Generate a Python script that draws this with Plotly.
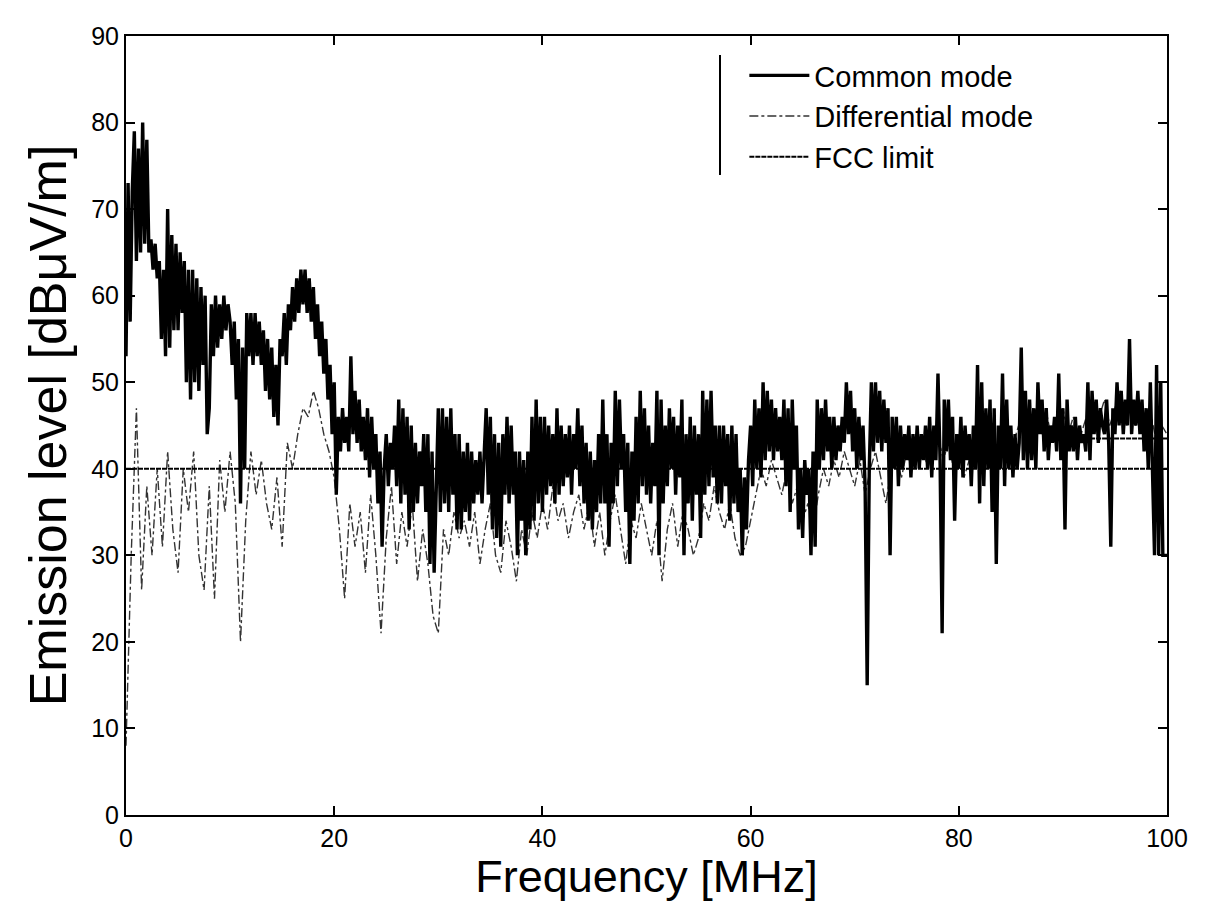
import numpy as np
import plotly.graph_objects as go

# ---- data ----
# Common mode emission, sampled every 0.2 MHz from 0 to 100 MHz (dBuV/m)
common_mode = [
    53, 73, 57, 72, 79,  64, 77, 65, 80, 66,  78, 65, 66.5, 63, 66,  62, 64, 55, 63, 53,  70, 54, 67, 56, 66,   # 0-5
    56, 65, 58, 64, 50,  63, 48, 63, 50, 62,  49, 61, 52, 60, 44,  47, 59, 53, 60, 54,  59, 55, 60, 56, 59,   # 5-10
    57, 52, 57, 48, 55,  36, 54, 40, 58, 53,  58, 52, 58, 53, 57,  52, 56, 49, 55, 48,  54, 46, 52, 45, 55,   # 10-15
    53, 58, 52, 59, 56,  61, 57, 62, 58, 63,  59, 63, 58, 62, 57,  61, 55, 59, 53, 57,  51, 55, 48, 52, 44,   # 15-20
    50, 37, 46, 42, 47,  43, 46, 42, 53, 44,  49, 43, 48, 42, 46,  41, 47, 39, 46, 40,  44, 36, 42, 31, 40,   # 20-25
    44, 38, 43, 40, 45,  38, 48, 36, 47, 37,  46, 33, 45, 35, 43,  36, 42, 38, 44, 35,  44, 29, 42, 28, 38,   # 25-30
    47, 35, 47, 36, 46,  35, 47, 37, 44, 33,  44, 33, 42, 35, 43,  34, 42, 36, 41, 37,  42, 36, 41, 47, 37,   # 30-35
    46, 33, 44, 32, 43,  31, 44, 37, 46, 36,  45, 37, 42, 30, 42,  34, 41, 30, 42, 33,  46, 34, 48, 36, 46,   # 35-40
    35, 46, 37, 45, 38,  44, 36, 47, 37, 45,  38, 44, 39, 45, 37,  44, 40, 47, 38, 45,  36, 43, 34, 42, 33,   # 40-45
    41, 35, 44, 36, 48,  36, 44, 31, 43, 36,  49, 38, 48, 40, 44,  35, 43, 29, 42, 34,  46, 36, 49, 38, 47,   # 45-50
    37, 45, 36, 43, 38,  49, 30, 48, 36, 45,  38, 47, 40, 46, 37,  45, 39, 48, 30, 44,  36, 46, 34, 45, 37,   # 50-55
    44, 32, 49, 37, 48,  38, 49, 39, 45, 36,  45, 36, 45, 38, 44,  34, 45, 36, 44, 35,  40, 30, 39, 33, 41,   # 55-60
    45, 38, 48, 40, 47,  39, 50, 41, 49, 42,  48, 41, 47, 42, 46,  41, 48, 38, 47, 35,  48, 40, 45, 33, 40,   # 60-65
    32, 41, 37, 40, 30,  42, 31, 48, 40, 47,  41, 48, 42, 46, 40,  46, 41, 45, 42, 46,  43, 50, 44, 49, 42,   # 65-70
    47, 40, 46, 41, 45,  38, 15, 40, 50, 42,  50, 43, 49, 42, 48,  43, 47, 30, 46, 40,  46, 38, 45, 40, 44,   # 70-75
    41, 45, 39, 44, 40,  45, 40, 44, 41, 45,  40, 46, 39, 45, 41,  51, 41, 21, 48, 42,  48, 41, 46, 34, 44,   # 75-80
    40, 46, 39, 45, 41,  44, 38, 45, 40, 52,  36, 50, 38, 47, 40,  48, 35, 47, 29, 45,  40, 51, 38, 48, 40,   # 80-85
    45, 39, 44, 40, 43,  54, 41, 49, 40, 48,  41, 47, 40, 50, 44,  48, 42, 47, 41, 45,  43, 46, 42, 51, 41,   # 85-90
    47, 33, 48, 42, 45,  42, 46, 41, 45, 43,  44, 42, 50, 41, 49,  44, 48, 43, 47, 45,  44, 48, 43, 31, 47,   # 90-95
    44, 50, 45, 49, 44,  48, 45, 55, 44, 48,  45, 49, 44, 48, 42,  47, 40, 50, 41, 30,  52, 30, 50, 30, 30,   # 95-100
    30,
]

# Differential mode emission, sampled every 0.5 MHz from 0 to 100 MHz (dBuV/m)
differential_mode = [
    8, 30, 47, 26, 38, 30, 40, 31, 42, 33,
    28, 40, 35, 42, 30, 26, 38, 25, 41, 35,
    42, 36, 20, 34, 42, 37, 41, 36, 33, 39,
    31, 43, 40, 44, 47, 46, 49, 47, 44, 42,
    39, 33, 25, 36, 31, 35, 28, 37, 30, 21,
    32, 38, 29, 35, 31, 36, 27, 33, 29, 23,
    21, 33, 30, 35, 32, 34, 31, 35, 29, 33,
    36, 30, 28, 34, 31, 27, 33, 30, 35, 32,
    36, 33, 38, 34, 36, 32, 35, 37, 33, 36,
    31, 35, 30, 34, 37, 33, 29, 34, 32, 36,
    33, 30, 34, 27, 33, 36, 31, 35, 33, 30,
    32, 36, 34, 38, 35, 33, 36, 32, 30, 31,
    34, 37, 40, 38, 41, 39, 37, 40, 36, 38,
    34, 36, 33, 37, 40, 38, 41, 39, 42, 40,
    38, 41, 37, 40, 42, 39, 36, 40, 41, 39,
    42, 40, 41, 43, 40, 42, 44, 41, 43, 40,
    42, 39, 41, 43, 40, 42, 44, 41, 43, 45,
    42, 44, 46, 43, 45, 47, 44, 46, 43, 45,
    47, 44, 46, 43, 45, 47, 44, 46, 48, 45,
    47, 49, 46, 48, 45, 47, 44, 46, 43, 45,
    44,
]

# FCC limit (dBuV/m)
fcc_freq = [0, 100, None, 88, 100]
fcc_level = [40, 40, None, 43.5, 43.5]

x_ticks = [0, 20, 40, 60, 80, 100]
y_ticks = [0, 10, 20, 30, 40, 50, 60, 70, 80, 90]

cm_freq = np.linspace(0, 100, len(common_mode))
dm_freq = np.linspace(0, 100, len(differential_mode))

FONT = "Liberation Sans, Arial, Helvetica, sans-serif"

fig = go.Figure()
fig.add_trace(go.Scatter(
    x=dm_freq, y=differential_mode, mode="lines", name="Differential mode",
    line=dict(color="#333333", width=1.4, dash="dashdot"), legendrank=2,
))
fig.add_trace(go.Scatter(
    x=cm_freq, y=common_mode, mode="lines", name="Common mode",
    line=dict(color="black", width=3.4), legendrank=1,
))
fig.add_trace(go.Scatter(
    x=fcc_freq, y=fcc_level, mode="lines", name="FCC limit",
    line=dict(color="black", width=2, dash="5px,1px"), legendrank=3,
))

axis_style = dict(
    showline=True, linecolor="black", linewidth=2, mirror="ticks",
    ticks="inside", ticklen=9, tickwidth=1.5, tickcolor="black",
    showgrid=False, zeroline=False, automargin=False,
    tickfont=dict(family=FONT, size=25, color="black"),
)

fig.update_xaxes(
    range=[0, 100], tickmode="array", tickvals=x_ticks,
    title=dict(text="Frequency [MHz]", font=dict(family=FONT, size=45, color="black"), standoff=22),
    **axis_style,
)
fig.update_yaxes(
    range=[0, 90], tickmode="array", tickvals=y_ticks,
    title=dict(text="Emission level [dBμV/m]", font=dict(family=FONT, size=52, color="black"), standoff=8),
    **axis_style,
)

fig.update_layout(
    template="none",
    width=1205, height=894,
    margin=dict(l=118, r=46, t=28, b=87),
    paper_bgcolor="white", plot_bgcolor="white",
    font=dict(family=FONT, color="black"),
    showlegend=True,
    legend=dict(
        x=0.594, y=0.982, xanchor="left", yanchor="top",
        font=dict(family=FONT, size=29, color="black"),
        bgcolor="rgba(0,0,0,0)", borderwidth=0,
        itemwidth=60, tracegroupgap=0,
    ),
    shapes=[dict(
        type="line", xref="paper", yref="paper",
        x0=0.5706, x1=0.5706, y0=0.8216, y1=0.9756,
        line=dict(color="black", width=2),
    )],
)

fig.write_html("out.html")
